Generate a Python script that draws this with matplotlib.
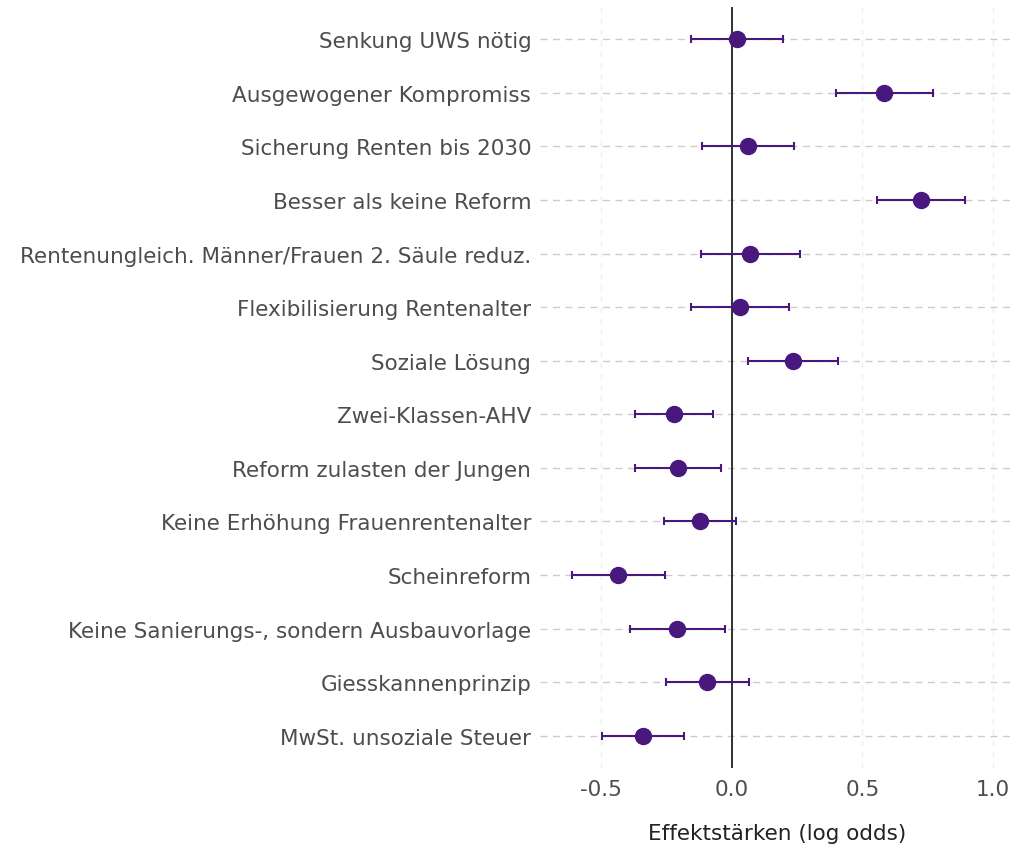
import matplotlib.pyplot as plt
import numpy as np

# =========================
# Data
# =========================
labels = [
    "Senkung UWS nötig",
    "Ausgewogener Kompromiss",
    "Sicherung Renten bis 2030",
    "Besser als keine Reform",
    "Rentenungleich. Männer/Frauen 2. Säule reduz.",
    "Flexibilisierung Rentenalter",
    "Soziale Lösung",
    "Zwei-Klassen-AHV",
    "Reform zulasten der Jungen",
    "Keine Erhöhung Frauenrentenalter",
    "Scheinreform",
    "Keine Sanierungs-, sondern Ausbauvorlage",
    "Giesskannenprinzip",
    "MwSt. unsoziale Steuer",
]
estimate = [0.022, 0.583, 0.061, 0.725, 0.070, 0.031, 0.235,
            -0.221, -0.205, -0.122, -0.435, -0.208, -0.093, -0.339]
ci_low = [-0.154, 0.398, -0.115, 0.557, -0.119, -0.157, 0.064,
          -0.369, -0.370, -0.260, -0.613, -0.390, -0.253, -0.495]
ci_high = [0.197, 0.770, 0.237, 0.894, 0.263, 0.219, 0.406,
           -0.073, -0.041, 0.015, -0.256, -0.024, 0.066, -0.184]
xticks = [-0.5, 0.0, 0.5, 1.0]

# =========================
# Style
# =========================
plt.rcParams["font.family"] = ["DejaVu Sans"]
purple = "#48187e"
text_col = "#4d4d4d"

fig = plt.figure(figsize=(10.24, 8.53), dpi=100)
ax = fig.add_axes([0.527, 0.0985, 0.464, 0.892])

n = len(labels)
y = np.arange(n, 0, -1)  # first label on top
est = np.array(estimate)
lo = est - np.array(ci_low)
hi = np.array(ci_high) - est

# grid lines
for xv in xticks:
    ax.axvline(xv, color="#eeeeee", lw=1.0, ls=(0, (4, 4)), zorder=0)
for yv in y:
    ax.axhline(yv, color="#cccccc", lw=1.0, ls=(0, (5, 4)), zorder=0)

ax.axvline(0, color="#222222", lw=1.3, zorder=1)

ax.errorbar(est, y, xerr=[lo, hi], fmt="none", ecolor=purple,
            elinewidth=1.5, capsize=3, capthick=1.5, zorder=2)
ax.plot(est, y, "o", color=purple, markersize=11.5, zorder=3)

ax.set_xlim(-0.735, 1.083)
ax.set_ylim(0.4, n + 0.6)
ax.set_xticks(xticks)
ax.set_xticklabels([f"{v:.1f}" for v in xticks])
ax.set_yticks(y)
ax.set_yticklabels(labels)

ax.tick_params(axis="both", length=0, labelsize=15.5, labelcolor=text_col)
ax.tick_params(axis="y", pad=6)
ax.tick_params(axis="x", pad=8)
ax.set_xlabel("Effektstärken (log odds)", fontsize=15.5, color="#222222", labelpad=17)

for s in ax.spines.values():
    s.set_visible(False)

plt.savefig("out.png", dpi=100)
plt.close()
